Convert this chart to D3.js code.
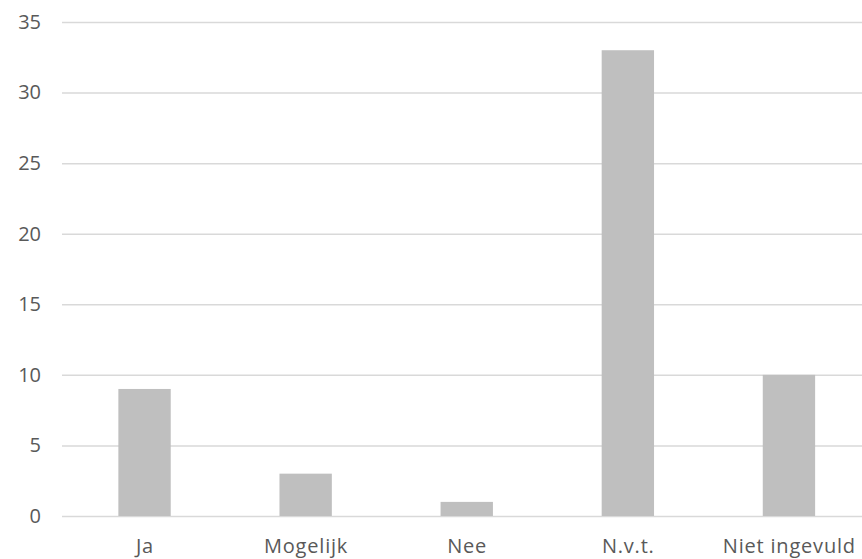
<!DOCTYPE html>
<html>
<head>
<meta charset="utf-8">
<script src="https://cdn.jsdelivr.net/npm/d3@7"></script>
<style>
  html, body { margin: 0; padding: 0; background: #ffffff; }
  svg { display: block; }
</style>
</head>
<body>
<svg id="chart" width="862" height="559"></svg>
<script>
// Answer categories and counts
const categories = ["Ja", "Mogelijk", "Nee", "N.v.t.", "Niet ingevuld"];
const counts = [9, 3, 1, 33, 10];
const yTicks = [0, 5, 10, 15, 20, 25, 30, 35];

const svg = d3.select("#chart");
const plot = { left: 62, right: 870, top: 22, bottom: 516 };

const x = d3.scaleBand()
  .domain(categories)
  .range([64, 869.5])
  .paddingInner(0.675)
  .paddingOuter(0.3375);

const y = d3.scaleLinear()
  .domain([0, 35])
  .range([plot.bottom, plot.top]);

const font = "'Open Sans', 'Liberation Sans', sans-serif";
const textColor = "#595959";

// Horizontal gridlines with value labels
const yAxis = d3.axisLeft(y)
  .tickValues(yTicks)
  .tickSize(-(plot.right - plot.left))
  .tickPadding(21)
  .tickFormat(d3.format("d"));

const gy = svg.append("g")
  .attr("transform", `translate(${plot.left},0)`)
  .call(yAxis);
gy.select(".domain").remove();
gy.selectAll(".tick line")
  .attr("stroke", "#d9d9d9")
  .attr("stroke-width", 1.5);
gy.selectAll(".tick text")
  .attr("fill", textColor)
  .style("font-family", font)
  .style("font-size", "20px");

// Bars
svg.append("g")
  .selectAll("rect")
  .data(categories.map((c, i) => ({ c, v: counts[i] })))
  .join("rect")
  .attr("x", d => x(d.c))
  .attr("width", x.bandwidth())
  .attr("y", d => y(d.v))
  .attr("height", d => y(0) - y(d.v))
  .attr("fill", "#bfbfbf");

// Category labels
const xAxis = d3.axisBottom(x).tickSize(0).tickPadding(23);
const gx = svg.append("g")
  .attr("transform", `translate(0,${plot.bottom})`)
  .call(xAxis);
gx.select(".domain").remove();
gx.selectAll(".tick text")
  .attr("fill", textColor)
  .attr("dx", "0.4px")
  .style("font-family", font)
  .style("font-size", "20px")
  .style("letter-spacing", "0.8px");
</script>
</body>
</html>
